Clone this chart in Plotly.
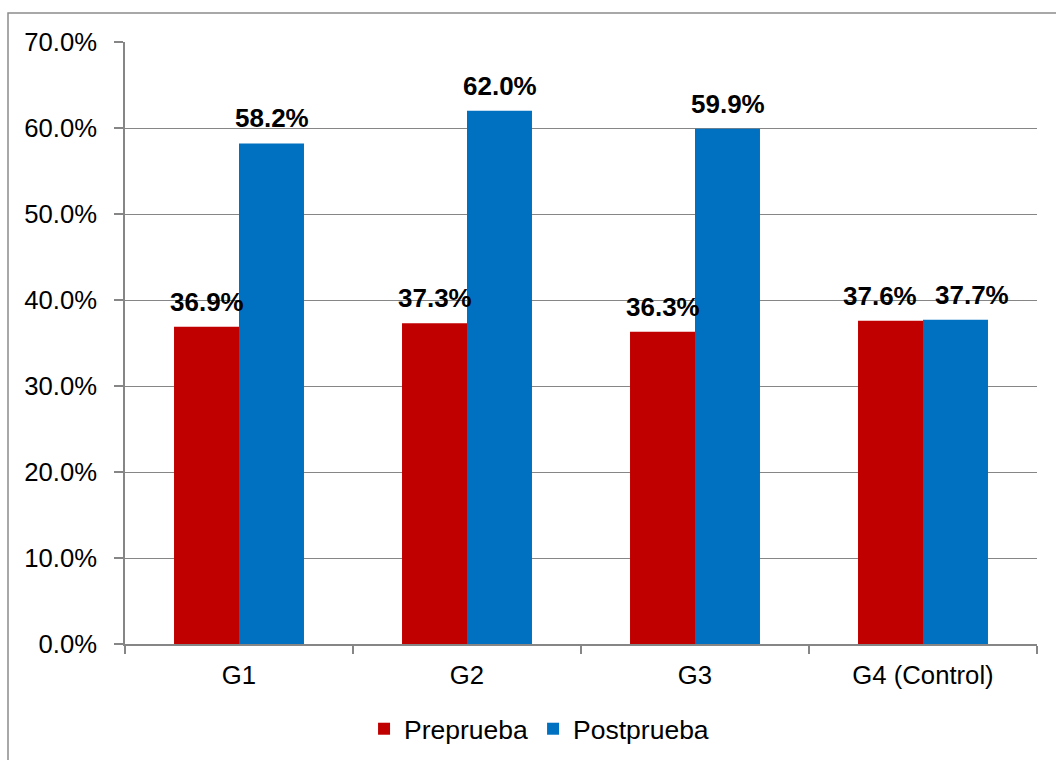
import plotly.graph_objects as go

# Data
groups = ["G1", "G2", "G3", "G4 (Control)"]
preprueba = [0.369, 0.373, 0.363, 0.376]
postprueba = [0.582, 0.620, 0.599, 0.377]
series_names = ["Preprueba", "Postprueba"]
colors = ["#C00000", "#0070C0"]
y_ticks = [0.0, 0.1, 0.2, 0.3, 0.4, 0.5, 0.6, 0.7]

FONT = "Liberation Sans, Arial, sans-serif"
W, H = 1056, 760
L, R, T, B = 125, 19, 42, 116
plot_w = W - L - R
plot_h = H - T - B

fig = go.Figure()
for name, vals, col in zip(series_names, [preprueba, postprueba], colors):
    fig.add_trace(go.Bar(
        x=groups, y=vals, name=name,
        marker=dict(color=col, line=dict(width=0)),
        hoverinfo="x+y",
    ))

# value labels above each bar; the control pair is spread apart so they don't collide
bar_half = 32.5
spread = {("G4 (Control)", 0): -43, ("G4 (Control)", 1): 49}
annotations = []
for si, vals in enumerate([preprueba, postprueba]):
    for g, v in zip(groups, vals):
        dx = spread.get((g, si), -bar_half if si == 0 else bar_half)
        annotations.append(dict(
            x=g, y=v, xref="x", yref="y",
            text=f"<b>{v * 100:.1f}%</b>",
            showarrow=False, xshift=dx, yshift=25,
            yanchor="middle", xanchor="center",
            font=dict(family=FONT, size=26, color="#000000"),
        ))

# outer chart frame
shapes = [dict(
    type="rect", xref="paper", yref="paper",
    x0=(8 - L) / plot_w, x1=(W + 10 - L) / plot_w,
    y0=-(H + 10 - T - plot_h) / plot_h, y1=1 + (T - 13) / plot_h,
    line=dict(color="#8C8C8C", width=1.5), fillcolor="rgba(0,0,0,0)",
    layer="below",
)]

fig.update_layout(
    width=W, height=H,
    margin=dict(l=L, r=R, t=T, b=B, pad=0, autoexpand=False),
    paper_bgcolor="white", plot_bgcolor="white",
    barmode="group", bargap=0.43, bargroupgap=0,
    font=dict(family=FONT, size=26, color="#000000"),
    showlegend=True,
    legend=dict(
        orientation="h", x=0.454, xanchor="center",
        y=-(729 - T - plot_h) / plot_h, yanchor="middle",
        font=dict(family=FONT, size=26.5, color="#000000"),
        itemwidth=30, tracegroupgap=0,
        bgcolor="rgba(0,0,0,0)",
    ),
    annotations=annotations,
    shapes=shapes,
    xaxis=dict(
        type="category", tickson="boundaries", automargin=False,
        ticks="outside", ticklen=8, tickcolor="#868686", tickwidth=1.5,
        showline=True, linecolor="#868686", linewidth=1.5,
        showgrid=False, ticklabelstandoff=7,
        tickfont=dict(family=FONT, size=25.7, color="#000000"),
    ),
    yaxis=dict(
        range=[0, 0.7], tickvals=y_ticks, tickformat=".1%", automargin=False,
        ticks="outside", ticklen=9, tickcolor="#868686", tickwidth=1.5,
        showline=True, linecolor="#868686", linewidth=1.5,
        showgrid=True, gridcolor="#868686", gridwidth=1.2,
        zeroline=False, ticklabelstandoff=12,
        tickfont=dict(family=FONT, size=25.7, color="#000000"),
    ),
)

fig.write_html("out.html")
